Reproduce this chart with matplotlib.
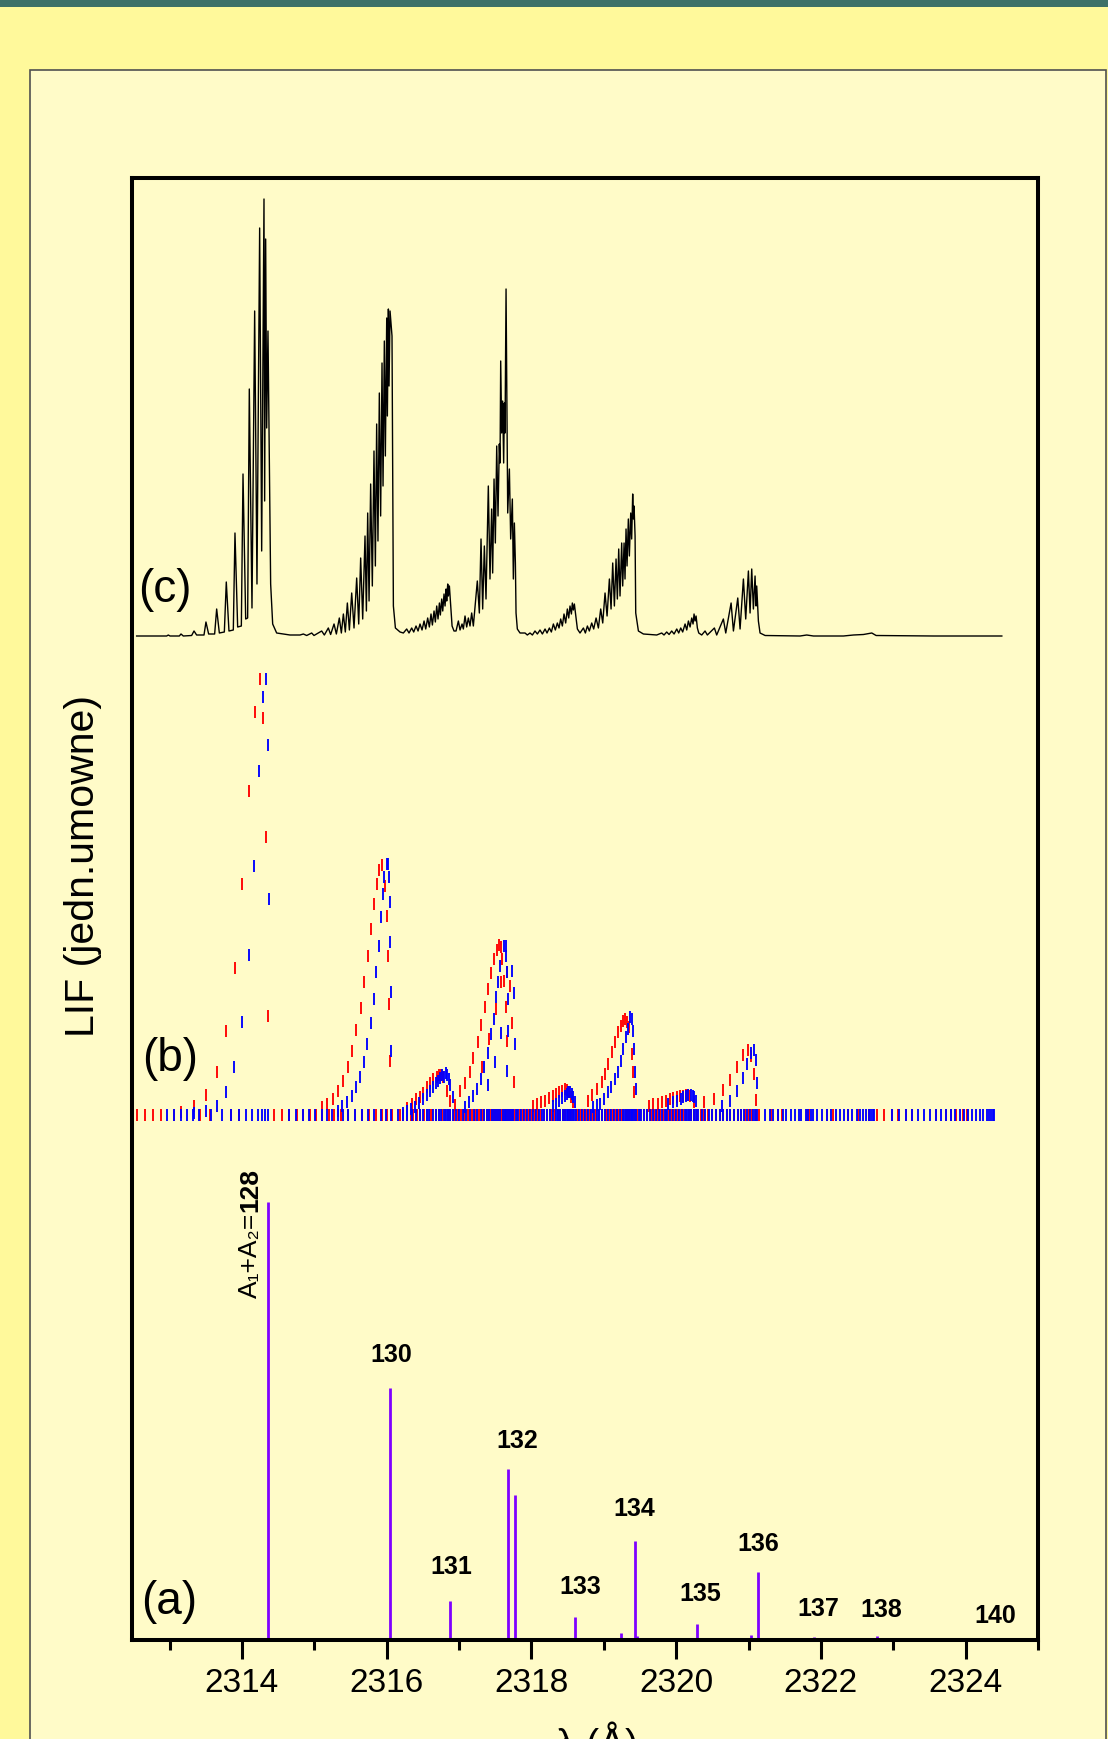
import numpy as np
import matplotlib
matplotlib.use("Agg")
import matplotlib.pyplot as plt
from matplotlib.patches import Rectangle

NARROW = ['Liberation Sans Narrow', 'Liberation Sans', 'DejaVu Sans']
REGULAR = ['Liberation Sans', 'DejaVu Sans']
plt.rcParams['font.family'] = NARROW

# ----------------------------
# (a) stick spectrum: positions (A) and heights
# ----------------------------
a_x = [2314.36, 2316.046, 2316.875, 2317.676, 2317.773, 2318.603, 2319.238,
       2319.432, 2319.46, 2320.289, 2321.028, 2321.126, 2321.906, 2322.771, 2324.42]
a_h = [438, 252, 39, 171, 145, 23, 7, 99, 4, 16, 5, 68, 3, 4, 2]

a_labels = ["130", "131", "132", "133", "134", "135", "136", "137", "138", "140"]
a_lab_x = [2316.06, 2316.89, 2317.80, 2318.67, 2319.42, 2320.33, 2321.13, 2321.96, 2322.83, 2324.41]
a_lab_y = [286, 74, 200, 54, 132, 47, 97, 32, 31, 25]

# ----------------------------
# (b) line positions, red and blue series
# ----------------------------
red_x = [2314.249, 2314.184, 2314.295, 2314.101, 2314.336, 2314.005, 2313.908, 2314.364,
         2313.783, 2313.65, 2313.507, 2313.341, 2313.162,
         2315.94, 2315.898, 2315.981, 2315.87, 2315.829, 2315.788, 2315.746, 2315.691,
         2315.649, 2315.58, 2315.525, 2315.47, 2315.401, 2315.332, 2315.262, 2315.18,
         2315.11, 2316.009, 2316.023, 2316.036, 2316.05,
         2316.285, 2316.354, 2316.41, 2316.46, 2316.507, 2316.553, 2316.599, 2316.645,
         2316.691, 2316.728, 2316.755, 2316.783, 2316.838, 2316.875, 2316.949,
         2317.013, 2317.082, 2317.151, 2317.198, 2317.267, 2317.308, 2317.363, 2317.405,
         2317.446, 2317.488, 2317.529, 2317.557, 2317.58, 2317.598, 2317.626, 2317.644,
         2317.658, 2317.662, 2317.709, 2317.737, 2317.764, 2317.312, 2317.419, 2317.506,
         2317.585,
         2318.027, 2318.082, 2318.137, 2318.193, 2318.243, 2318.294, 2318.345, 2318.386,
         2318.428, 2318.46, 2318.488, 2318.515, 2318.552, 2318.58,
         2318.787, 2318.84, 2318.9, 2318.971, 2319.017, 2319.063, 2319.118, 2319.16,
         2319.201, 2319.238, 2319.27, 2319.298, 2319.326, 2319.353, 2319.386, 2319.409,
         2319.423,
         2319.63, 2319.685, 2319.754, 2319.81, 2319.86, 2319.916, 2319.962, 2320.017,
         2320.054, 2320.1, 2320.137, 2320.164, 2320.192, 2320.247,
         2320.39, 2320.528, 2320.653, 2320.745, 2320.846, 2320.929, 2320.998, 2321.04,
         2321.081, 2321.109]
red_h = [436, 403, 397, 324, 278, 231, 147, 99,
         84, 43, 20, 9, 3,
         250, 245, 229, 231, 211, 186, 159, 133,
         107, 85, 64, 48, 34, 24, 16, 11,
         8, 199, 159, 111, 54,
         7, 11, 16, 18, 22, 28, 32, 36,
         38, 40, 40, 38, 24, 14, 10,
         24, 32, 43, 57, 73, 90, 108, 126,
         142, 156, 165, 170, 168, 156, 134, 108,
         143, 74, 129, 92, 33, 48, 76, 106,
         133,
         9, 11, 13, 14, 17, 19, 21, 23,
         24, 26, 25, 23, 18, 13,
         14, 20, 26, 33, 41, 51, 63, 73,
         83, 89, 94, 96, 93, 88, 61, 43,
         23,
         9, 11, 11, 13, 14, 16, 17, 18,
         19, 19, 20, 20, 19, 13,
         13, 16, 25, 35, 48, 60, 65, 59,
         41, 15]

blue_x = [2314.336, 2314.295, 2314.364, 2314.24, 2314.171, 2314.368, 2314.101, 2314.005,
          2313.894, 2313.774, 2313.65, 2313.498, 2313.332,
          2316.0, 2316.023, 2315.967, 2316.036, 2315.953, 2316.04, 2315.926, 2315.898,
          2316.05, 2315.857, 2315.829, 2316.053, 2315.788, 2315.732, 2315.691, 2315.636,
          2315.58, 2315.525, 2315.456, 2315.387, 2315.332, 2316.055,
          2316.221, 2316.276, 2316.336, 2316.396, 2316.451, 2316.507, 2316.553, 2316.599,
          2316.645, 2316.686, 2316.714, 2316.737, 2316.765, 2316.797, 2316.82, 2316.838,
          2316.857, 2316.875, 2316.912,
          2317.626, 2317.644, 2317.654, 2317.571, 2317.667, 2317.737, 2317.543, 2317.515,
          2317.67, 2317.764, 2317.488, 2317.446, 2317.585, 2317.672, 2317.405, 2317.778,
          2317.35, 2317.502, 2317.304, 2317.665, 2317.248, 2317.4, 2317.193, 2317.138,
          2317.082,
          2318.294, 2318.34, 2318.386, 2318.423, 2318.46, 2318.488, 2318.511, 2318.534,
          2318.557, 2318.58, 2318.598,
          2318.85, 2318.9, 2318.95, 2319.003, 2319.059, 2319.105, 2319.16, 2319.201,
          2319.238, 2319.27, 2319.303, 2319.34, 2319.363, 2319.386, 2319.4, 2319.418,
          2319.436, 2319.44,
          2319.892, 2319.962, 2320.017, 2320.063, 2320.1, 2320.137, 2320.169, 2320.201,
          2320.229, 2320.252, 2320.275,
          2320.639, 2320.75, 2320.846, 2320.929, 2320.984, 2321.035, 2321.081, 2321.109,
          2321.113]
blue_h = [436, 418, 370, 344, 249, 216, 160, 93,
          48, 23, 9, 4, 2,
          251, 251, 238, 238, 221, 213, 198, 169,
          173, 143, 116, 123, 92, 71, 53, 38,
          28, 19, 13, 9, 4, 64,
          2, 4, 6, 8, 12, 16, 20, 24,
          28, 32, 34, 37, 40, 38, 42, 40,
          36, 30, 18,
          169, 169, 159, 149, 143, 144, 133, 118,
          116, 122, 96, 81, 82, 84, 62, 71,
          48, 53, 36, 44, 26, 30, 19, 13,
          8,
          9, 11, 14, 17, 19, 21, 23, 23,
          21, 18, 13,
          8, 10, 11, 16, 23, 28, 36, 43,
          54, 66, 78, 86, 98, 96, 84, 66,
          43, 26,
          11, 13, 14, 16, 18, 19, 20, 20,
          19, 18, 14,
          9, 14, 24, 37, 51, 62, 65, 55,
          32]

# lines lying at the baseline of (b)
red_base = [2312.553, 2312.664, 2312.775, 2312.876, 2313.065, 2313.42, 2313.562, 2313.848,
            2313.959, 2314.447, 2314.558, 2314.654, 2314.756, 2314.848, 2314.94, 2315.018,
            2315.11, 2315.203, 2315.276, 2315.373, 2315.47, 2315.56, 2315.663, 2315.751,
            2315.848, 2315.94, 2316.0, 2316.078, 2316.184, 2316.23, 2316.276, 2316.33,
            2316.368, 2316.42, 2316.46, 2316.51, 2316.552, 2316.6, 2316.63, 2316.68,
            2316.72, 2316.77, 2316.8, 2316.84, 2316.87, 2316.93, 2316.99, 2317.03,
            2317.07, 2317.12, 2317.18, 2317.22, 2317.27, 2317.31, 2317.35, 2317.38,
            2317.41, 2317.44, 2317.47, 2317.5, 2317.53, 2317.55, 2317.58, 2317.6,
            2317.62, 2317.64, 2317.66, 2317.69, 2317.72, 2317.76, 2317.8, 2317.84,
            2317.88, 2317.92, 2317.97, 2318.01, 2318.05, 2318.09, 2318.13, 2318.17,
            2318.21, 2318.25, 2318.29, 2318.33, 2318.36, 2318.4, 2318.44, 2318.47,
            2318.5, 2318.52, 2318.55, 2318.58, 2318.61, 2318.65, 2318.69, 2318.73,
            2318.77, 2318.81, 2318.85, 2318.89, 2318.93, 2318.97, 2319.01, 2319.05,
            2319.09, 2319.13, 2319.17, 2319.2, 2319.24, 2319.27, 2319.3, 2319.33,
            2319.36, 2319.39, 2319.42, 2319.46, 2319.5, 2319.55, 2319.6, 2319.65,
            2319.7, 2319.74, 2319.78, 2319.82, 2319.86, 2319.9, 2319.94, 2319.98,
            2320.02, 2320.06, 2320.1, 2320.14, 2320.18, 2320.21, 2320.25, 2320.29,
            2320.34, 2320.39, 2320.44, 2320.5, 2320.55, 2320.6, 2320.65, 2320.7,
            2320.75, 2320.8, 2320.85, 2320.9, 2320.95, 2321.0, 2321.05, 2321.1,
            2321.146, 2321.307, 2321.404, 2321.468, 2321.805, 2321.837, 2322.081, 2322.173,
            2322.38, 2322.509, 2322.661, 2322.781, 2322.878, 2322.979, 2323.071, 2323.173,
            2323.256, 2323.592, 2323.726, 2323.799, 2323.864, 2323.97, 2324.016]
blue_base = [2312.968, 2313.056, 2313.152, 2313.244, 2313.327, 2313.41, 2313.572, 2313.719,
             2313.843, 2313.954, 2314.06, 2314.143, 2314.221, 2314.272, 2314.323, 2314.359,
             2314.645, 2314.746, 2314.839, 2314.921, 2315.014, 2315.101, 2315.175, 2315.249,
             2315.33, 2315.4, 2315.47, 2315.567, 2315.654, 2315.746, 2315.829, 2315.916,
             2315.99, 2316.059, 2316.152, 2316.221, 2316.28, 2316.345, 2316.4, 2316.46,
             2316.5, 2316.552, 2316.59, 2316.64, 2316.68, 2316.72, 2316.75, 2316.79,
             2316.82, 2316.85, 2316.88, 2316.92, 2316.96, 2317.0, 2317.05, 2317.1,
             2317.15, 2317.2, 2317.25, 2317.3, 2317.34, 2317.38, 2317.42, 2317.45,
             2317.48, 2317.51, 2317.54, 2317.57, 2317.6, 2317.63, 2317.65, 2317.67,
             2317.7, 2317.73, 2317.75, 2317.78, 2317.82, 2317.86, 2317.9, 2317.94,
             2317.98, 2318.02, 2318.06, 2318.1, 2318.14, 2318.18, 2318.22, 2318.26,
             2318.3, 2318.34, 2318.37, 2318.4, 2318.43, 2318.46, 2318.49, 2318.51,
             2318.53, 2318.55, 2318.57, 2318.59, 2318.62, 2318.66, 2318.7, 2318.74,
             2318.78, 2318.82, 2318.86, 2318.9, 2318.94, 2318.98, 2319.02, 2319.06,
             2319.1, 2319.14, 2319.18, 2319.22, 2319.26, 2319.29, 2319.32, 2319.35,
             2319.37, 2319.39, 2319.41, 2319.43, 2319.45, 2319.48, 2319.52, 2319.56,
             2319.6, 2319.64, 2319.68, 2319.72, 2319.76, 2319.8, 2319.84, 2319.88,
             2319.92, 2319.96, 2320.0, 2320.04, 2320.08, 2320.12, 2320.15, 2320.18,
             2320.21, 2320.24, 2320.27, 2320.3, 2320.35, 2320.4, 2320.45, 2320.5,
             2320.55, 2320.6, 2320.65, 2320.7, 2320.75, 2320.8, 2320.85, 2320.9,
             2320.94, 2320.98, 2321.02, 2321.06, 2321.09, 2321.12, 2321.224, 2321.298,
             2321.344, 2321.404, 2321.473, 2321.514, 2321.583, 2321.643, 2321.694, 2321.722,
             2321.795, 2321.828, 2321.86, 2321.897, 2321.943, 2322.012, 2322.081, 2322.141,
             2322.21, 2322.265, 2322.325, 2322.38, 2322.436, 2322.496, 2322.542, 2322.588,
             2322.625, 2322.661, 2322.689, 2322.717, 2322.735, 2322.979, 2323.081, 2323.173,
             2323.256, 2323.348, 2323.426, 2323.509, 2323.587, 2323.661, 2323.73, 2323.795,
             2323.859, 2323.924, 2323.984, 2324.039, 2324.094, 2324.145, 2324.2, 2324.246,
             2324.292, 2324.329, 2324.352, 2324.375, 2324.398]

# ----------------------------
# (c) simulated spectrum, read as peak / valley vertices
# ----------------------------
c_x = [2312.544, 2312.959, 2312.982, 2313.005, 2313.134, 2313.157, 2313.189, 2313.304,
       2313.337, 2313.373, 2313.475, 2313.502, 2313.539, 2313.622, 2313.65, 2313.687,
       2313.756, 2313.783, 2313.82, 2313.88, 2313.903, 2313.94, 2313.991, 2314.014,
       2314.051, 2314.078, 2314.101, 2314.138, 2314.175, 2314.207, 2314.244, 2314.272,
       2314.304, 2314.313, 2314.327, 2314.341, 2314.359, 2314.378, 2314.396, 2314.424,
       2314.479, 2314.663,
       2314.802, 2314.848, 2314.894, 2314.963, 2314.995, 2315.101, 2315.138, 2315.193,
       2315.225, 2315.272, 2315.304, 2315.345, 2315.373, 2315.401, 2315.428, 2315.456,
       2315.484, 2315.516, 2315.548, 2315.585, 2315.613, 2315.64, 2315.668, 2315.7,
       2315.719, 2315.737, 2315.756, 2315.778, 2315.801, 2315.824, 2315.843, 2315.861,
       2315.879, 2315.898, 2315.916, 2315.935, 2315.949, 2315.967, 2315.981, 2316.0,
       2316.009, 2316.023, 2316.032, 2316.046, 2316.073, 2316.092, 2316.12, 2316.184,
       2316.23, 2316.276, 2316.308, 2316.345, 2316.373, 2316.405, 2316.433, 2316.46,
       2316.488, 2316.516, 2316.539, 2316.566, 2316.589, 2316.612, 2316.631, 2316.654,
       2316.672, 2316.691, 2316.709, 2316.728, 2316.741, 2316.76, 2316.774, 2316.792,
       2316.806, 2316.82, 2316.829, 2316.843, 2316.852, 2316.866, 2316.884, 2316.903,
       2316.93, 2316.958, 2316.99, 2317.013, 2317.041, 2317.059, 2317.082, 2317.105,
       2317.128,
       2317.151, 2317.174, 2317.197, 2317.252, 2317.28, 2317.303, 2317.326, 2317.349,
       2317.372, 2317.404, 2317.427, 2317.45, 2317.464, 2317.483, 2317.501, 2317.52,
       2317.538, 2317.556, 2317.566, 2317.575, 2317.589, 2317.602, 2317.616, 2317.626,
       2317.635, 2317.649, 2317.672, 2317.695, 2317.713, 2317.736, 2317.75, 2317.764,
       2317.778, 2317.787, 2317.805, 2317.842,
       2317.911, 2317.943, 2317.98, 2318.013, 2318.049, 2318.082, 2318.118, 2318.151,
       2318.188, 2318.215, 2318.248, 2318.275, 2318.303, 2318.33, 2318.358, 2318.381,
       2318.404, 2318.427, 2318.45, 2318.473, 2318.496, 2318.515, 2318.533, 2318.552,
       2318.565, 2318.579, 2318.593, 2318.616, 2318.635, 2318.671,
       2318.718, 2318.745, 2318.773, 2318.8, 2318.833, 2318.86, 2318.893, 2318.925,
       2318.957, 2318.985, 2319.017, 2319.045, 2319.077, 2319.1, 2319.123, 2319.146,
       2319.169, 2319.187, 2319.206, 2319.224, 2319.247, 2319.261, 2319.28, 2319.293,
       2319.307, 2319.321, 2319.339, 2319.353, 2319.372, 2319.385, 2319.399, 2319.409,
       2319.418, 2319.432, 2319.441, 2319.478, 2319.547,
       2319.731, 2319.8, 2319.832, 2319.869, 2319.902, 2319.938, 2319.971, 2320.008,
       2320.035, 2320.063, 2320.09, 2320.123, 2320.146, 2320.169, 2320.192, 2320.215,
       2320.233, 2320.247, 2320.261, 2320.275, 2320.293, 2320.312, 2320.353,
       2320.399, 2320.431, 2320.528, 2320.56, 2320.652, 2320.685, 2320.759, 2320.791,
       2320.851, 2320.883, 2320.929, 2320.961, 2320.998, 2321.021, 2321.044, 2321.067,
       2321.09, 2321.104, 2321.113, 2321.136, 2321.159, 2321.229,
       2321.712, 2321.804, 2321.897, 2322.311, 2322.45, 2322.588, 2322.703, 2322.763,
       2323.555, 2324.5]
c_h = [0, 0, 1, 0, 0, 2, 0, 0.5,
       5, 1, 1, 14, 2, 2, 27, 3,
       4, 54, 5, 6, 103, 9, 10, 162,
       17, 18, 247, 28, 325, 52, 408, 85,
       437, 135, 397, 208, 305, 180, 52, 12,
       3, 1,
       1, 2, 0.5, 3, 0.5, 5, 1, 8,
       1.5, 12, 2, 18, 3, 22, 4, 33,
       6, 43, 8, 58, 12, 78, 17, 100,
       25, 123, 35, 152, 50, 185, 70, 212,
       95, 243, 120, 273, 150, 295, 180, 318,
       220, 327, 250, 325, 300, 30, 8, 4,
       3, 7, 3, 8, 4, 10, 5, 12,
       6, 15, 7, 18, 9, 22, 11, 25,
       14, 30, 17, 33, 21, 37, 25, 42,
       30, 47, 35, 52, 40, 50, 30, 10,
       5, 5, 15, 6, 12, 7, 20, 9,
       18,
       10, 23, 10, 55, 23, 97, 27, 90,
       37, 150, 57, 127, 63, 157, 93, 190,
       120, 192, 173, 275, 203, 235, 173, 233,
       203, 347, 123, 167, 97, 137, 57, 113,
       73, 23, 7, 3,
       3, 1, 3, 1, 5, 2, 6, 2,
       7, 3, 8, 4, 12, 6, 13, 8,
       17, 10, 22, 13, 27, 18, 30, 22,
       33, 26, 32, 18, 7, 3,
       8, 3, 10, 5, 13, 7, 18, 8,
       27, 13, 43, 20, 57, 27, 73, 30,
       77, 37, 87, 40, 93, 50, 93, 57,
       107, 70, 117, 80, 123, 97, 142, 117,
       130, 100, 23, 5, 2,
       1, 3, 1, 4, 1.5, 5, 2, 7,
       3, 8, 4, 12, 6, 15, 9, 18,
       12, 22, 15, 20, 8, 3, 1,
       5, 1, 8, 1, 17, 3, 33, 5,
       38, 7, 57, 17, 65, 23, 67, 27,
       60, 30, 50, 15, 3, 0.5,
       0, 1, 0, 0, 1, 1.5, 3, 0.5,
       0, 0]

OFF_B = 525   # vertical offset of trace (b)
OFF_C = 1004  # vertical offset of trace (c)

# ----------------------------
# figure and slide background
# ----------------------------
W, H = 1108, 1740
fig = plt.figure(figsize=(W / 100, H / 100), dpi=100)
fig.patch.set_facecolor('#FFF99B')
fig.patches.append(Rectangle((0, 1 - 8 / H), 1, 8 / H, transform=fig.transFigure,
                             facecolor='#3E7168', edgecolor='none', zorder=-5))
fig.patches.append(Rectangle((30 / W, -0.01), 1076 / W, 1.01 - 71 / H, transform=fig.transFigure,
                             facecolor='#FFFBC8', edgecolor='#505050', lw=1.2, zorder=-5))

ax = fig.add_axes([132 / W, 99 / H, 906 / W, 1462 / H])
ax.set_zorder(2)
ax.patch.set_alpha(0)
ax.set_xlim(2312.48, 2325.0)
ax.set_ylim(0, 1462)

# (a)
ax.vlines(a_x, 0, a_h, color='#7F00FF', lw=2.0, zorder=2)
for lab, x, y in zip(a_labels, a_lab_x, a_lab_y):
    ax.text(x, y, lab, ha='center', va='center', fontsize=18, fontweight='bold')
t1 = ax.text(2314.11, 343, 'A\u2081+A\u2082=', rotation=90, rotation_mode='anchor',
             ha='left', va='center', fontsize=19, family=REGULAR)
fig.canvas.draw()
bb = t1.get_window_extent()
y_end = ax.transData.inverted().transform((0, bb.y1))[1]
ax.text(2314.11, y_end + 1, '128', rotation=90, rotation_mode='anchor',
        ha='left', va='center', fontsize=19, fontweight='bold')

# (b)
mk = dict(ls='none', marker='|', ms=9.1, mew=1.35)
ax.plot(red_base, np.zeros(len(red_base)) + OFF_B, color='red', **mk)
ax.plot(red_x, np.array(red_h) + OFF_B, color='red', **mk)
ax.plot(blue_base, np.zeros(len(blue_base)) + OFF_B, color='blue', **mk)
ax.plot(blue_x, np.array(blue_h) + OFF_B, color='blue', **mk)

# (c)
ax.plot(c_x, np.array(c_h) + OFF_C, color='black', lw=1.0)

ax.text(2312.94, 1051, '(c)', ha='center', va='center', fontsize=33)
ax.text(2313.0, 582, '(b)', ha='center', va='center', fontsize=33)
ax.text(2313.0, 39, '(a)', ha='center', va='center', fontsize=33)

ax.set_xticks([2314, 2316, 2318, 2320, 2322, 2324])
ax.set_xticks(np.arange(2313, 2326, 1), minor=True)
ax.set_yticks([])
for s in ax.spines.values():
    s.set_linewidth(2.9)
ax.tick_params(axis='x', which='major', direction='out', length=13.7, width=2.2,
               labelsize=24, pad=5.5)
ax.tick_params(axis='x', which='minor', direction='out', length=7.2, width=2.2)

fig.text(83 / W, 1 - 866 / H, 'LIF (jedn.umowne)', rotation=90, ha='center', va='center',
         fontsize=29.5, family=REGULAR)
fig.text(597 / W, 1 - 1721 / H, '\u03bb (\u00c5)', ha='center', va='top', fontsize=28, family=REGULAR)

fig.savefig('out.png', dpi=100, facecolor=fig.get_facecolor())
